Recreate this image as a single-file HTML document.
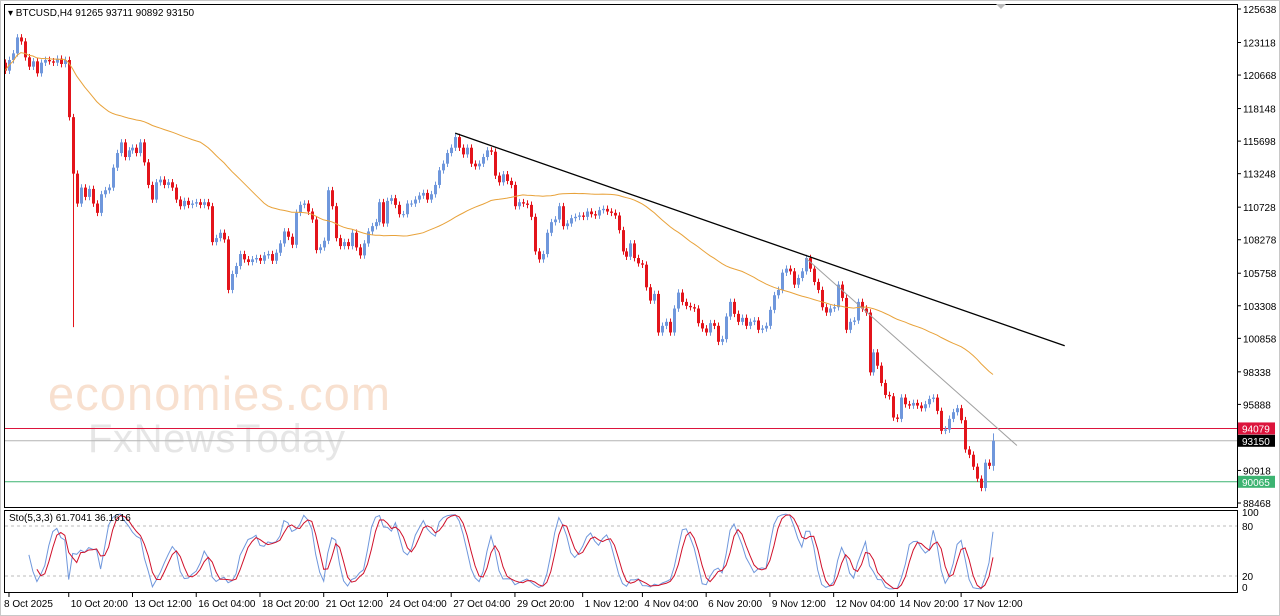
<!DOCTYPE html>
<html><head><meta charset="utf-8"><style>
html,body{margin:0;padding:0;background:#fff;}
svg{display:block;font-family:"Liberation Sans",Arial,sans-serif;}
</style></head><body>
<svg id="c" width="1280" height="616" viewBox="0 0 1280 616" xmlns="http://www.w3.org/2000/svg">
<rect x="0" y="0" width="1280" height="616" fill="#fff"/>
<rect x="0.5" y="0.5" width="1279" height="615" fill="none" stroke="#c8c8c8"/>
<g>
<text x="48" y="410" font-size="47" fill="#f8e0cf" textLength="342" font-family="Liberation Sans, sans-serif">economies.com</text>
<text x="88" y="452" font-size="40" fill="#e6e6e6" textLength="257" font-family="Liberation Sans, sans-serif">FxNewsToday</text>
</g>
<g id="main"></g>
<rect x="4.5" y="4.5" width="1233" height="503" fill="none" stroke="#000"/>
<rect x="4.5" y="510.5" width="1233" height="82" fill="none" stroke="#000"/>
<polygon points="996,4 1006,4 1001,9" fill="#bbb"/>
<text x="8" y="16" font-size="10" fill="#000">▾ BTCUSD,H4  91265 93711 90892 93150</text>
<text x="9" y="521" font-size="10" fill="#000">Sto(5,3,3) 61.7041 36.1616</text>
</svg>
<script>
const closes=[121000,121800,122300,123500,123200,122000,121300,121700,120800,121600,121800,121700,121600,121900,121500,121800,
117500,113250,111000,112200,111500,112100,111000,110300,111700,112000,112200,113700,114800,115600,114500,115000,115200,114800,115600,114100,112400,111300,112600,112800,112400,112600,112200,111300,110800,111200,110900,111000,111100,110900,111100,110800,108100,108400,108800,108300,104500,105700,106300,107200,106800,106600,106800,106900,106700,107100,107200,106700,107300,108000,108900,108500,107900,110300,110900,111000,110400,109800,107500,107700,108200,112000,110800,108400,
107800,108100,107800,108800,107700,107100,108000,108900,109300,109600,111100,109500,111200,111400,110900,110200,110200,111000,111000,111300,111600,111800,111300,111700,112400,113500,114000,114800,115200,116000,115200,114700,115200,114000,113800,114000,114500,115000,114900,113100,112600,113200,112700,112400,110800,111100,111000,110900,110000,107400,106800,107200,108800,109600,109800,110800,109300,109500,109900,110000,110100,110000,110400,110200,110100,110500,110600,110400,110300,110100,109000,107400,107000,108000,106900,106500,106400,104700,103700,104200,101300,
101800,102100,101300,103100,104300,103600,103300,103200,103100,102000,101600,101300,102000,101800,100600,100800,102500,103600,102700,102100,102400,101800,102100,102200,101500,101600,101800,103000,104100,104500,105800,106100,105900,104900,105400,105900,106900,106100,105100,104500,103200,102800,103100,103200,104900,103900,101500,102100,102200,103600,103100,102800,98300,99800,98800,97500,96600,96500,94900,94800,96400,95900,95800,96000,95800,95600,95900,96300,96400,95400,93900,94000,94800,95300,95600,94700,92500,92100,91200,90300,89600,91500,91265,93150];
const firstOpen=121600;
const spikeLows={17:101700};
const lastHigh=93711, lastLow=90892;
const priceTicks=[125638,123118,120668,118148,115698,113248,110728,108278,105758,103308,100858,98338,95888,90918,88468];
const timeLabels=["8 Oct 2025","10 Oct 20:00","13 Oct 12:00","16 Oct 04:00","18 Oct 20:00","21 Oct 12:00","24 Oct 04:00","27 Oct 04:00","29 Oct 20:00","1 Nov 12:00","4 Nov 04:00","6 Nov 20:00","9 Nov 12:00","12 Nov 04:00","14 Nov 20:00","17 Nov 12:00"];
const timeLabelBars=[1,16,32,48,64,80,96,112,128,145,160,176,192,208,224,240];
const levels=[{p:94079,c:"#dc143c",bg:"#dc143c",name:"resistance-line"},{p:93150,c:"#b4b4b4",bg:"#000",name:"bid-line"},{p:90065,c:"#3cb371",bg:"#3cb371",name:"support-line"}];
const trend1=[{i:113,p:116300},{i:266,p:100300}];
const trend2=[{i:201,p:106900},{i:254,p:92800}];
const stoLevels=[80,20];
const maPeriod=50;

const NS="http://www.w3.org/2000/svg";
const N=closes.length;
const X=i=>5+i*(988/(N-1));
const Y=p=>9+(125638-p)/75.24;
const SY=v=>592.7-v*0.833;
const main=document.getElementById('main');
function mk(tag,attrs,parent){const e=document.createElementNS(NS,tag);for(const k in attrs)e.setAttribute(k,attrs[k]);(parent||main).appendChild(e);return e;}

const opens=closes.map((c,i)=>i===0?firstOpen:closes[i-1]);
const highs=closes.map((c,i)=>i===N-1?lastHigh:Math.max(c,opens[i])+250);
const lows=closes.map((c,i)=>i===N-1?lastLow:(spikeLows[i]!==undefined?spikeLows[i]:Math.min(c,opens[i])-250));

levels.forEach(l=>{
  const ln=mk('line',{x1:5,x2:1237,y1:Y(l.p),y2:Y(l.p),stroke:l.c,'stroke-width':1});
  
  
});

for(let i=0;i<N;i++){
  const up=closes[i]>=opens[i];
  const col=up?"#6f97dc":"#e3141b";
  const x=Math.round(X(i))+0.5;
  const g=mk('g',{});
  
  
  mk('line',{x1:x,x2:x,y1:Y(highs[i]),y2:Y(lows[i]),stroke:col,'stroke-width':1},g);
  const t=Y(Math.max(opens[i],closes[i])),b=Y(Math.min(opens[i],closes[i]));
  mk('rect',{x:x-1.5,y:t,width:3,height:Math.max(1,b-t),fill:col},g);
}

let pts=[];
for(let i=0;i<N;i++){const s=Math.max(0,i-maPeriod+1);let sum=0;for(let j=s;j<=i;j++)sum+=closes[j];pts.push(X(i).toFixed(1)+","+Y(sum/(i-s+1)).toFixed(1));}
const ma=mk('polyline',{points:pts.join(' '),fill:'none',stroke:'#e8a23a','stroke-width':1});



const t1=mk('line',{x1:X(trend1[0].i),y1:Y(trend1[0].p),x2:X(trend1[1].i),y2:Y(trend1[1].p),stroke:'#000','stroke-width':1.3});


const t2=mk('line',{x1:X(trend2[0].i),y1:Y(trend2[0].p),x2:X(trend2[1].i),y2:Y(trend2[1].p),stroke:'#a0a0a0','stroke-width':1});



priceTicks.forEach(p=>{
  const y=Y(p);
  mk('line',{x1:1237,x2:1241,y1:y,y2:y,stroke:'#000'});
  const t=mk('text',{x:1243,y:y+4,'font-size':10,fill:'#000'});
  t.textContent=p;
  
  
});
levels.forEach(l=>{
  const y=Y(l.p);
  const r=mk('rect',{x:1238,y:y-6,width:37,height:12,fill:l.bg});
  
  
  const t=mk('text',{x:1242,y:y+4,'font-size':10,fill:'#fff'});
  t.textContent=l.p;
  
  
});

const K=5,slow=3;
let mainK=[],sig=[];
for(let i=0;i<N;i++){
  if(i<K+slow-2){mainK.push(null);continue;}
  let num=0,den=0;
  for(let s=i-slow+1;s<=i;s++){let hh=-1e9,ll=1e9;for(let j=s-K+1;j<=s;j++){hh=Math.max(hh,highs[j]);ll=Math.min(ll,lows[j]);}num+=closes[s]-ll;den+=hh-ll;}
  mainK.push(den?100*num/den:50);
}
for(let i=0;i<N;i++){if(mainK[i]===null||mainK[i-2]==null){sig.push(null);continue;}sig.push((mainK[i]+mainK[i-1]+mainK[i-2])/3);}
stoLevels.forEach(v=>{
  const l=mk('line',{x1:5,x2:1237,y1:SY(v),y2:SY(v),stroke:'#bbb','stroke-dasharray':'3,3'});
  
  
});
[[mainK,'#6f97dc','stochastic-main'],[sig,'#d0102a','stochastic-signal']].forEach(([arr,col,nm])=>{
  const p=[];arr.forEach((v,i)=>{if(v!==null)p.push(X(i).toFixed(1)+","+SY(v).toFixed(1));});
  const pl=mk('polyline',{points:p.join(' '),fill:'none',stroke:col,'stroke-width':1});
  
  
});
[[100,515],[80,529],[20,579],[0,590]].forEach(([v,y])=>{
  const t=mk('text',{x:1242,y:y+1,'font-size':10,fill:'#000'});
  t.textContent=v;
  
  
});

timeLabels.forEach((s,k)=>{
  const x=X(timeLabelBars[k]);
  mk('line',{x1:x,x2:x,y1:593,y2:597,stroke:'#000'});
  const t=mk('text',{x:k===0?4:x+2,y:607,'font-size':10,fill:'#000'});
  t.textContent=s;
  
  
});
</script>
</body></html>
